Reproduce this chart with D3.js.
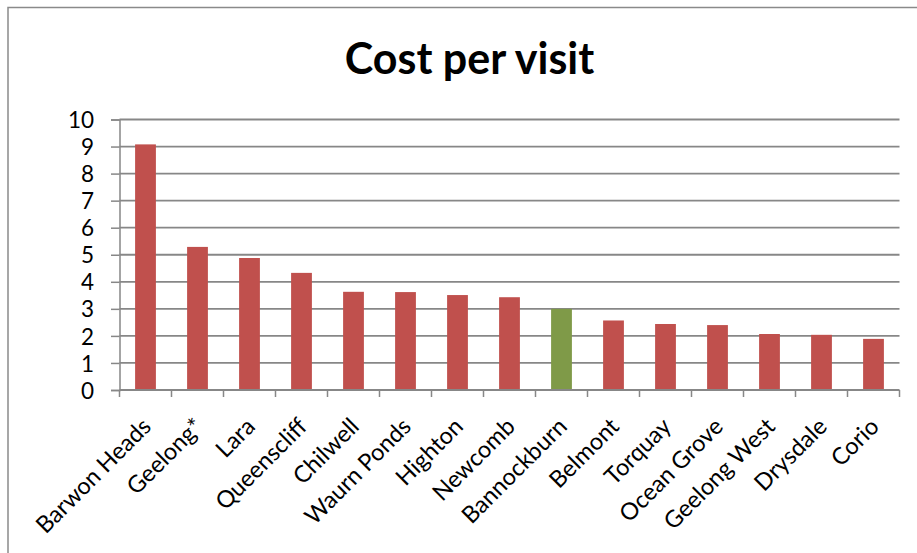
<!DOCTYPE html>
<html>
<head>
<meta charset="utf-8">
<script src="https://cdn.jsdelivr.net/npm/d3@7/dist/d3.min.js"></script>
<style>
  html, body { margin: 0; padding: 0; background: #fff; }
  svg { display: block; }
  text { font-family: Lato, "Open Sans", sans-serif; fill: #000; }
</style>
</head>
<body>
<svg id="chart" width="917" height="553"></svg>
<script>
// Chart data
const title = "Cost per visit";
const suburbs = ["Barwon Heads", "Geelong*", "Lara", "Queenscliff", "Chilwell", "Waurn Ponds",
  "Highton", "Newcomb", "Bannockburn", "Belmont", "Torquay", "Ocean Grove",
  "Geelong West", "Drysdale", "Corio"];
const costPerVisit = [9.08, 5.29, 4.88, 4.33, 3.63, 3.62, 3.51, 3.43, 3.0, 2.57, 2.44, 2.40, 2.07, 2.04, 1.89];
const highlighted = ["Bannockburn"];
const yTicks = [0, 1, 2, 3, 4, 5, 6, 7, 8, 9, 10];

const svg = d3.select("#chart");
const W = 917, H = 553;
const plot = { left: 119.5, right: 899.5, top: 119.5, bottom: 390 };

svg.append("rect").attr("width", W).attr("height", H).attr("fill", "#fff");

// Outer frame (top and left edges)
svg.append("path")
  .attr("d", `M8,${H} V7.5 H${W}`)
  .attr("fill", "none").attr("stroke", "#8a8a8a").attr("stroke-width", 1.5);

const x = d3.scaleBand().domain(suburbs).range([plot.left, plot.right])
  .paddingInner(0.6).paddingOuter(0.3);
const y = d3.scaleLinear().domain([0, 10]).range([plot.bottom, plot.top]);

// Horizontal gridlines with tick labels
const yAxis = d3.axisLeft(y).tickValues(yTicks).tickSize(8.5).tickPadding(17);
const gy = svg.append("g").attr("transform", `translate(${plot.left},0)`).call(yAxis);
gy.select(".domain").attr("stroke", "#878787").attr("stroke-width", 1.5);
gy.selectAll(".tick line").attr("stroke", "#878787").attr("stroke-width", 1.5);
gy.selectAll(".tick text").style("font-size", "22.5px").attr("dy", "0.36em");

svg.append("g").selectAll("line").data(yTicks.filter(d => d > 0)).join("line")
  .attr("x1", plot.left).attr("x2", plot.right)
  .attr("y1", d => y(d)).attr("y2", d => y(d))
  .attr("stroke", "#878787").attr("stroke-width", 1.8);

// Bars
svg.append("g").selectAll("rect").data(suburbs).join("rect")
  .attr("x", d => x(d))
  .attr("width", x.bandwidth())
  .attr("y", (d, i) => y(costPerVisit[i]))
  .attr("height", (d, i) => y(0) - y(costPerVisit[i]))
  .attr("fill", d => highlighted.includes(d) ? "#7f9a48" : "#c0504d");

// Category axis: baseline and tick marks between categories
svg.append("line")
  .attr("x1", plot.left).attr("x2", plot.right)
  .attr("y1", y(0)).attr("y2", y(0))
  .attr("stroke", "#878787").attr("stroke-width", 1.8);
const step = x.step();
const boundaries = d3.range(suburbs.length + 1).map(i => plot.left + i * step);
svg.append("g").selectAll("line").data(boundaries).join("line")
  .attr("x1", d => d).attr("x2", d => d)
  .attr("y1", y(0)).attr("y2", y(0) + 7)
  .attr("stroke", "#878787").attr("stroke-width", 1.5);

// Rotated category labels
svg.append("g").selectAll("text").data(suburbs).join("text")
  .attr("transform", d => `translate(${x(d) + x.bandwidth() / 2 + 7},428) rotate(-45)`)
  .attr("text-anchor", "end")
  .style("font-size", "23.5px")
  .text(d => d);

// Title
svg.append("text")
  .attr("x", 469.5).attr("y", 74)
  .attr("text-anchor", "middle")
  .style("font-size", "43px").style("font-weight", "bold")
  .text(title);
</script>
</body>
</html>
